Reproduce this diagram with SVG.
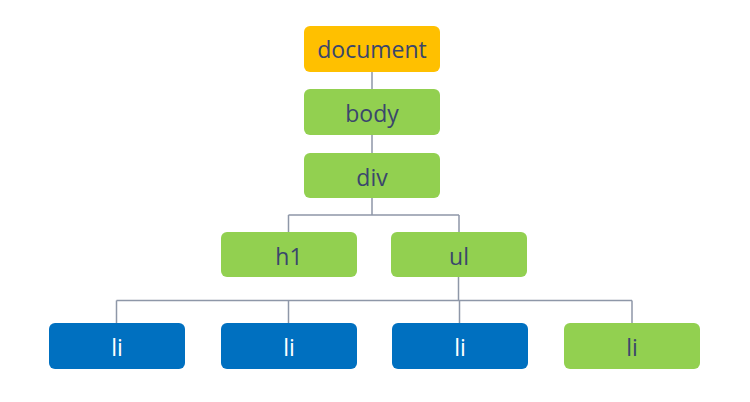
<svg xmlns="http://www.w3.org/2000/svg" width="750" height="402" viewBox="0 0 750 402">
<style>
.box{stroke:none}
.y{fill:#FFC000}
.g{fill:#92D050}
.b{fill:#0070C0}
text{font-family:"Open Sans","Noto Sans","DejaVu Sans",sans-serif;font-size:23px;text-anchor:middle;dominant-baseline:central}
.dk{fill:#3A466C}
.wt{fill:#FFFFFF}
.conn{fill:none;stroke:#8E97A8;stroke-width:1.5}
</style>
<rect width="750" height="402" fill="#FFFFFF"/>
<g id="connectors" class="conn">
<path d="M372 72V89M372 135V153M372 198V215M288.5 215H459M288.5 215V232M459 215V232"/>
<path d="M458.5 277V300.5M116.5 300.5H632M116.5 300.5V323M288.5 300.5V323M459.5 300.5V323M632 300.5V323"/>
</g>
<g id="node-document"><rect class="box y" x="304" y="26" width="136" height="46" rx="6"/><text class="dk" x="372" y="49">document</text></g>
<g id="node-body"><rect class="box g" x="304" y="89" width="136" height="46" rx="6"/><text class="dk" x="372" y="113">body</text></g>
<g id="node-div"><rect class="box g" x="304" y="153" width="136" height="45" rx="6"/><text class="dk" x="372" y="177">div</text></g>
<g id="node-h1"><rect class="box g" x="221" y="232" width="136" height="45" rx="6"/><text class="dk" x="289" y="256">h1</text></g>
<g id="node-ul"><rect class="box g" x="391" y="232" width="136" height="45" rx="6"/><text class="dk" x="459" y="256">ul</text></g>
<g id="node-li1"><rect class="box b" x="49" y="323" width="136" height="46" rx="6"/><text class="wt" x="117" y="347">li</text></g>
<g id="node-li2"><rect class="box b" x="221" y="323" width="136" height="46" rx="6"/><text class="wt" x="289" y="347">li</text></g>
<g id="node-li3"><rect class="box b" x="392" y="323" width="136" height="46" rx="6"/><text class="wt" x="460" y="347">li</text></g>
<g id="node-li4"><rect class="box g" x="564" y="323" width="136" height="46" rx="6"/><text class="dk" x="632" y="347">li</text></g>
</svg>
